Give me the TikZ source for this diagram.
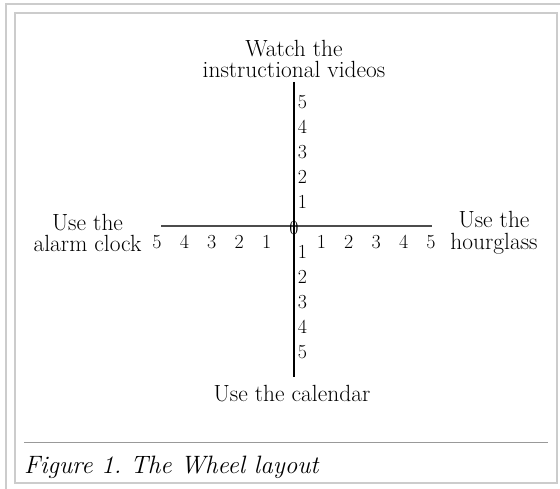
\documentclass[tikz,border=0pt]{standalone}
\begin{document}
\frenchspacing
\begin{tikzpicture}[x=1bp,y=-1bp,
  lbl/.style={font=\fontsize{23.5}{22}\selectfont, align=center, inner sep=0pt},
  num/.style={font=\fontsize{20}{20}\selectfont, inner sep=0pt},
  frame/.style={draw=black!20, line width=1.5bp},
  hax/.style={draw=black!70, line width=1.6bp},
  vax/.style={draw=black, line width=1.2bp}]
\useasboundingbox (0,0) rectangle (560,489);
\draw[frame] (6,489) -- (6,4) -- (560,4);
\draw[frame] (15,13) rectangle (557,483);
\coordinate (L) at (161,226);
\coordinate (R) at (432,226);
\coordinate (T) at (294,82);
\coordinate (B) at (294,377);
\draw[hax] (L) -- (R);
\draw[vax] (T) -- (B);
\node[num] (n0) at (294,228) {0};
\foreach \i in {1,...,5} {
  \node[num] (xr\i) at ({294+27.4*\i},242) {\i};
  \node[num] (xl\i) at ({294-27.4*\i},242) {\i};
  \node[num] (yu\i) at (302.5,{226.7-25*\i}) {\i};
  \node[num] (yd\i) at (302.5,{226.7+25*\i}) {\i};
}
\node[lbl] (top) at (294,59) {Watch the\\instructional videos};
\node[lbl] (left) at (87.5,233) {Use the\\alarm clock};
\node[lbl] (right) at (494,233) {Use the\\hourglass};
\node[lbl] (bottom) at (292,394) {Use the calendar};
\coordinate (c1) at (24,442);
\coordinate (c2) at (548,442);
\draw[draw=black!40, line width=1bp] (c1) -- (c2);
\node[font=\fontsize{25.2}{28}\selectfont\itshape, anchor=west, inner sep=0pt] (cap) at (24,467) {Figure 1. The Wheel layout};
\end{tikzpicture}
\end{document}
